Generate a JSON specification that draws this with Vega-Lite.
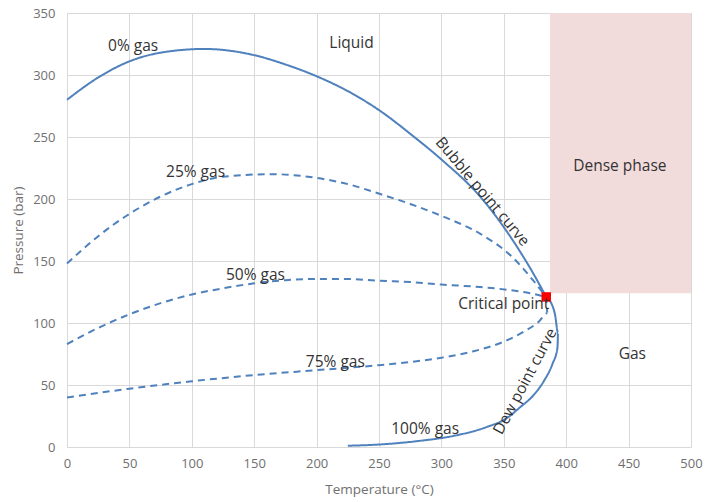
{
  "$schema": "https://vega.github.io/schema/vega-lite/v6.json",
  "width": 624,
  "height": 434,
  "autosize": "none",
  "padding": {"left": 67, "top": 13, "right": 14, "bottom": 55},
  "background": "white",
  "config": {
    "view": {"stroke": null},
    "font": "Open Sans",
    "axis": {
      "gridColor": "#d9d9d9",
      "gridWidth": 1,
      "domainColor": "#d9d9d9",
      "ticks": false,
      "labelColor": "#707070",
      "labelFontSize": 13,
      "titleColor": "#707070",
      "titleFontSize": 13.5,
      "titleFontWeight": "normal",
      "labelFont": "Open Sans",
      "titleFont": "Open Sans",
      "labelOverlap": false,
      "labelFlush": false
    }
  },
  "datasets": {
    "curves": [
      {"curve": "0% gas", "style": "solid", "i": 0, "T": 0, "P": 280},
      {"curve": "0% gas", "style": "solid", "i": 1, "T": 25, "P": 298},
      {"curve": "0% gas", "style": "solid", "i": 2, "T": 50, "P": 311},
      {"curve": "0% gas", "style": "solid", "i": 3, "T": 75, "P": 318},
      {"curve": "0% gas", "style": "solid", "i": 4, "T": 110, "P": 321},
      {"curve": "0% gas", "style": "solid", "i": 5, "T": 150, "P": 316},
      {"curve": "0% gas", "style": "solid", "i": 6, "T": 175, "P": 308.5},
      {"curve": "0% gas", "style": "solid", "i": 7, "T": 200, "P": 299},
      {"curve": "0% gas", "style": "solid", "i": 8, "T": 225, "P": 287},
      {"curve": "0% gas", "style": "solid", "i": 9, "T": 251, "P": 271},
      {"curve": "0% gas", "style": "solid", "i": 10, "T": 277, "P": 251},
      {"curve": "0% gas", "style": "solid", "i": 11, "T": 301, "P": 231},
      {"curve": "0% gas", "style": "solid", "i": 12, "T": 331, "P": 202},
      {"curve": "0% gas", "style": "solid", "i": 13, "T": 357, "P": 167},
      {"curve": "0% gas", "style": "solid", "i": 14, "T": 373, "P": 141},
      {"curve": "0% gas", "style": "solid", "i": 15, "T": 384, "P": 121},
      {"curve": "25% gas", "style": "dashed", "i": 0, "T": 0, "P": 148},
      {"curve": "25% gas", "style": "dashed", "i": 1, "T": 25, "P": 170},
      {"curve": "25% gas", "style": "dashed", "i": 2, "T": 50, "P": 188},
      {"curve": "25% gas", "style": "dashed", "i": 3, "T": 75, "P": 202},
      {"curve": "25% gas", "style": "dashed", "i": 4, "T": 100, "P": 212},
      {"curve": "25% gas", "style": "dashed", "i": 5, "T": 125, "P": 218},
      {"curve": "25% gas", "style": "dashed", "i": 6, "T": 165, "P": 220},
      {"curve": "25% gas", "style": "dashed", "i": 7, "T": 200, "P": 217},
      {"curve": "25% gas", "style": "dashed", "i": 8, "T": 225, "P": 212},
      {"curve": "25% gas", "style": "dashed", "i": 9, "T": 251, "P": 204},
      {"curve": "25% gas", "style": "dashed", "i": 10, "T": 275, "P": 196},
      {"curve": "25% gas", "style": "dashed", "i": 11, "T": 301, "P": 186},
      {"curve": "25% gas", "style": "dashed", "i": 12, "T": 331, "P": 172},
      {"curve": "25% gas", "style": "dashed", "i": 13, "T": 357, "P": 153},
      {"curve": "25% gas", "style": "dashed", "i": 14, "T": 373, "P": 135},
      {"curve": "25% gas", "style": "dashed", "i": 15, "T": 384, "P": 121},
      {"curve": "50% gas", "style": "dashed", "i": 0, "T": 0, "P": 83},
      {"curve": "50% gas", "style": "dashed", "i": 1, "T": 25, "P": 96},
      {"curve": "50% gas", "style": "dashed", "i": 2, "T": 50, "P": 107},
      {"curve": "50% gas", "style": "dashed", "i": 3, "T": 75, "P": 116},
      {"curve": "50% gas", "style": "dashed", "i": 4, "T": 100, "P": 123},
      {"curve": "50% gas", "style": "dashed", "i": 5, "T": 125, "P": 128},
      {"curve": "50% gas", "style": "dashed", "i": 6, "T": 150, "P": 132},
      {"curve": "50% gas", "style": "dashed", "i": 7, "T": 175, "P": 134.5},
      {"curve": "50% gas", "style": "dashed", "i": 8, "T": 200, "P": 135.5},
      {"curve": "50% gas", "style": "dashed", "i": 9, "T": 225, "P": 135.5},
      {"curve": "50% gas", "style": "dashed", "i": 10, "T": 251, "P": 134},
      {"curve": "50% gas", "style": "dashed", "i": 11, "T": 275, "P": 133},
      {"curve": "50% gas", "style": "dashed", "i": 12, "T": 300, "P": 131},
      {"curve": "50% gas", "style": "dashed", "i": 13, "T": 331, "P": 129},
      {"curve": "50% gas", "style": "dashed", "i": 14, "T": 355, "P": 126.5},
      {"curve": "50% gas", "style": "dashed", "i": 15, "T": 371, "P": 124},
      {"curve": "50% gas", "style": "dashed", "i": 16, "T": 384, "P": 121},
      {"curve": "75% gas", "style": "dashed", "i": 0, "T": 0, "P": 40},
      {"curve": "75% gas", "style": "dashed", "i": 1, "T": 50, "P": 47},
      {"curve": "75% gas", "style": "dashed", "i": 2, "T": 100, "P": 53},
      {"curve": "75% gas", "style": "dashed", "i": 3, "T": 150, "P": 58},
      {"curve": "75% gas", "style": "dashed", "i": 4, "T": 200, "P": 62},
      {"curve": "75% gas", "style": "dashed", "i": 5, "T": 250, "P": 66},
      {"curve": "75% gas", "style": "dashed", "i": 6, "T": 300, "P": 72},
      {"curve": "75% gas", "style": "dashed", "i": 7, "T": 325, "P": 77},
      {"curve": "75% gas", "style": "dashed", "i": 8, "T": 350, "P": 85},
      {"curve": "75% gas", "style": "dashed", "i": 9, "T": 366, "P": 93},
      {"curve": "75% gas", "style": "dashed", "i": 10, "T": 378, "P": 101},
      {"curve": "75% gas", "style": "dashed", "i": 11, "T": 385, "P": 108},
      {"curve": "75% gas", "style": "dashed", "i": 12, "T": 384, "P": 121},
      {"curve": "100% gas", "style": "solid", "i": 0, "T": 225, "P": 1},
      {"curve": "100% gas", "style": "solid", "i": 1, "T": 250, "P": 2},
      {"curve": "100% gas", "style": "solid", "i": 2, "T": 283, "P": 5},
      {"curve": "100% gas", "style": "solid", "i": 3, "T": 310, "P": 9},
      {"curve": "100% gas", "style": "solid", "i": 4, "T": 336, "P": 16},
      {"curve": "100% gas", "style": "solid", "i": 5, "T": 352, "P": 23},
      {"curve": "100% gas", "style": "solid", "i": 6, "T": 363, "P": 32},
      {"curve": "100% gas", "style": "solid", "i": 7, "T": 374, "P": 42},
      {"curve": "100% gas", "style": "solid", "i": 8, "T": 382, "P": 53},
      {"curve": "100% gas", "style": "solid", "i": 9, "T": 389, "P": 67},
      {"curve": "100% gas", "style": "solid", "i": 10, "T": 393, "P": 80},
      {"curve": "100% gas", "style": "solid", "i": 11, "T": 393.5, "P": 92},
      {"curve": "100% gas", "style": "solid", "i": 12, "T": 391, "P": 107},
      {"curve": "100% gas", "style": "solid", "i": 13, "T": 387.5, "P": 117},
      {"curve": "100% gas", "style": "solid", "i": 14, "T": 384, "P": 121}
    ],
    "labels": [
      {"T": 228, "P": 326, "text": "Liquid"},
      {"T": 443, "P": 227, "text": "Dense phase"},
      {"T": 453, "P": 75, "text": "Gas"},
      {"T": 350, "P": 115, "text": "Critical point"},
      {"T": 53, "P": 323, "text": "0% gas"},
      {"T": 103, "P": 222, "text": "25% gas"},
      {"T": 151, "P": 139, "text": "50% gas"},
      {"T": 215, "P": 68.5, "text": "75% gas"},
      {"T": 287, "P": 14.5, "text": "100% gas"}
    ]
  },
  "layer": [
    {
      "data": {"values": [{"T1": 387, "T2": 500, "P1": 124, "P2": 350}]},
      "mark": {"type": "rect", "color": "#f2dcdb"},
      "encoding": {
        "x": {"field": "T1", "type": "quantitative", "scale": {"domain": [0, 500]},
          "axis": {"title": "Temperature (°C)", "values": [0,50,100,150,200,250,300,350,400,450,500], "labelPadding": 10, "titlePadding": 12}},
        "x2": {"field": "T2"},
        "y": {"field": "P1", "type": "quantitative", "scale": {"domain": [0, 350]},
          "axis": {"title": "Pressure (bar)", "values": [0,50,100,150,200,250,300,350], "labelPadding": 12, "titlePadding": 7}},
        "y2": {"field": "P2"}
      }
    },
    {
      "data": {"name": "curves"},
      "mark": {"type": "line", "strokeWidth": 2, "color": "#4f81bd", "interpolate": "monotone"},
      "encoding": {
        "x": {"field": "T", "type": "quantitative",
          "axis": {"title": "Temperature (°C)", "values": [0,50,100,150,200,250,300,350,400,450,500], "labelPadding": 10, "titlePadding": 12}},
        "y": {"field": "P", "type": "quantitative",
          "axis": {"title": "Pressure (bar)", "values": [0,50,100,150,200,250,300,350], "labelPadding": 12, "titlePadding": 7}},
        "detail": {"field": "curve"},
        "order": {"field": "i", "type": "quantitative"},
        "strokeDash": {"field": "style", "type": "nominal", "scale": {"domain": ["solid", "dashed"], "range": [[1, 0], [7, 5]]}, "legend": null}
      }
    },
    {
      "data": {"values": [{"T": 384, "P": 121}]},
      "mark": {"type": "square", "color": "#ff0000", "opacity": 1, "size": 90, "filled": true},
      "encoding": {
        "x": {"field": "T", "type": "quantitative"},
        "y": {"field": "P", "type": "quantitative"}
      }
    },
    {
      "data": {"name": "labels"},
      "mark": {"type": "text", "fontSize": 15.5, "color": "#333333", "font": "Open Sans"},
      "encoding": {
        "x": {"field": "T", "type": "quantitative"},
        "y": {"field": "P", "type": "quantitative"},
        "text": {"field": "text"}
      }
    },
    {
      "data": {"values": [{"T": 333, "P": 206, "text": "Bubble point curve"}]},
      "mark": {"type": "text", "fontSize": 15.5, "color": "#333333", "font": "Open Sans", "angle": 50},
      "encoding": {
        "x": {"field": "T", "type": "quantitative"},
        "y": {"field": "P", "type": "quantitative"},
        "text": {"field": "text"}
      }
    },
    {
      "data": {"values": [{"T": 367, "P": 53, "text": "Dew point curve"}]},
      "mark": {"type": "text", "fontSize": 15.5, "color": "#333333", "font": "Open Sans", "angle": -62},
      "encoding": {
        "x": {"field": "T", "type": "quantitative"},
        "y": {"field": "P", "type": "quantitative"},
        "text": {"field": "text"}
      }
    }
  ]
}
